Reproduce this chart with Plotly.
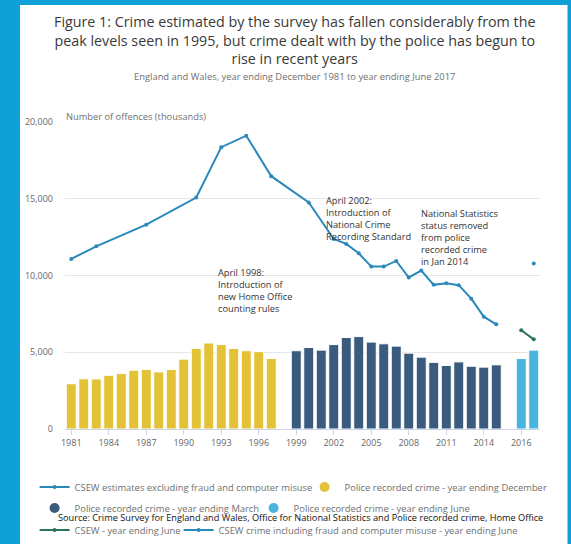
import plotly.graph_objects as go

# ---------------- data ----------------
categories = ["1981", "1982", "1983", "1984", "1985", "1986", "1987", "1988", "1989",
              "1990", "1991", "1992", "1993", "1994", "1995", "1996", "1997", "1998",
              "1999", "2000", "2001", "2002", "2003", "2004", "2005", "2006", "2007",
              "2008", "2009", "2010", "2011", "2012", "2013", "2014", "2015", "2015/16",
              "2016", "2017"]
tick_labels = ["1981", "1984", "1987", "1990", "1993", "1996", "1999", "2002", "2005",
               "2008", "2011", "2014", "2016"]

dec_years = ["1981", "1982", "1983", "1984", "1985", "1986", "1987", "1988", "1989",
             "1990", "1991", "1992", "1993", "1994", "1995", "1996", "1997"]
dec_values = [2950, 3270, 3260, 3500, 3610, 3830, 3880, 3720, 3880,
              4550, 5250, 5600, 5500, 5250, 5100, 5040, 4590]

mar_years = ["1999", "2000", "2001", "2002", "2003", "2004", "2005", "2006", "2007",
             "2008", "2009", "2010", "2011", "2012", "2013", "2014", "2015"]
mar_values = [5100, 5310, 5140, 5500, 5960, 6020, 5660, 5550, 5400,
              4940, 4680, 4340, 4140, 4370, 4090, 4030, 4180]

jun_years = ["2016", "2017"]
jun_values = [4590, 5140]

csew_years = ["1981", "1983", "1987", "1991", "1993", "1995", "1997", "2000", "2002",
              "2003", "2004", "2005", "2006", "2007", "2008", "2009", "2010", "2011",
              "2012", "2013", "2014", "2015"]
csew_values = [11080, 11900, 13310, 15080, 18360, 19110, 16470, 14760, 12380,
               12060, 11450, 10580, 10580, 10950, 9870, 10320, 9390, 9500,
               9370, 8490, 7320, 6820]

csew_june_years = ["2016", "2017"]
csew_june_values = [6430, 5840]

fraud_years = ["2017"]
fraud_values = [10780]

note_years = ["1998", "2002", "2014"]

# ---------------- styling ----------------
FRAME = "#0EA0D6"
YELLOW = "#E4C237"
DARKBLUE = "#3A5B7E"
LIGHTBLUE = "#4AB4DE"
LINEBLUE = "#2A89BA"
GREEN = "#2E7356"
FONT = "Open Sans"

W, H = 571, 544
L, R, T, B = 65, 31, 122, 115
PW = W - L - R
PH = H - T - B


def px_x(px):
    return (px - L) / PW


def px_y(py):
    return (H - B - py) / PH


fig = go.Figure()

fig.add_trace(go.Bar(x=dec_years, y=dec_values, marker=dict(color=YELLOW, line=dict(color="white", width=1)),
                     showlegend=False, name="Police recorded crime - year ending December"))
fig.add_trace(go.Bar(x=mar_years, y=mar_values, marker=dict(color=DARKBLUE, line=dict(color="white", width=1)),
                     showlegend=False, name="Police recorded crime - year ending March"))
fig.add_trace(go.Bar(x=jun_years, y=jun_values, marker=dict(color=LIGHTBLUE, line=dict(color="white", width=1)),
                     showlegend=False, name="Police recorded crime - year ending June"))

fig.add_trace(go.Scatter(x=csew_years, y=csew_values, mode="lines+markers",
                         line=dict(color=LINEBLUE, width=2), marker=dict(size=4, color=LINEBLUE),
                         name="CSEW estimates excluding fraud and computer misuse",
                         legend="legend", legendwidth=225))
fig.add_trace(go.Scatter(x=[None], y=[None], mode="markers", marker=dict(size=10, color=YELLOW),
                         name="Police recorded crime - year ending December", legend="legend"))
fig.add_trace(go.Scatter(x=[None], y=[None], mode="markers", marker=dict(size=10, color=DARKBLUE),
                         name="Police recorded crime - year ending March", legend="legend2",
                         legendwidth=174))
fig.add_trace(go.Scatter(x=[None], y=[None], mode="markers", marker=dict(size=10, color=LIGHTBLUE),
                         name="Police recorded crime - year ending June", legend="legend2"))
fig.add_trace(go.Scatter(x=csew_june_years, y=csew_june_values, mode="lines+markers",
                         line=dict(color=GREEN, width=2), marker=dict(size=4, color=GREEN),
                         name="CSEW - year ending June", legend="legend3", legendwidth=99))
fig.add_trace(go.Scatter(x=fraud_years, y=fraud_values, mode="lines+markers",
                         line=dict(color=LINEBLUE, width=2), marker=dict(size=4, color=LINEBLUE),
                         name="CSEW crime including fraud and computer misuse - year ending June",
                         legend="legend3"))

shapes = [dict(type="rect", xref="paper", yref="paper", x0=px_x(20), x1=px_x(567.5),
               y0=px_y(550), y1=px_y(5), fillcolor="white", line=dict(width=0), layer="below")]
for yr in note_years:
    shapes.append(dict(type="line", xref="x", yref="paper", x0=yr, x1=yr, y0=0, y1=1,
                       line=dict(color="#E3E3E3", width=1.5), layer="below"))

legend_common = dict(orientation="h", xref="paper", yref="paper", xanchor="left", yanchor="middle",
                     font=dict(family=FONT, size=9.4, color="#707070"), bgcolor="rgba(0,0,0,0)",
                     borderwidth=0, itemwidth=30)

NOTE_FONT = dict(family=FONT, size=9.25, color="#333333")

annotations = [
    dict(text="Figure 1: Crime estimated by the survey has fallen considerably from the<br>"
              "peak levels seen in 1995, but crime dealt with by the police has begun to<br>"
              "rise in recent years",
         x=px_x(294), y=px_y(10), xref="paper", yref="paper", xanchor="center", yanchor="top",
         align="center", showarrow=False, font=dict(family=FONT, size=14.3, color="#3A3A3A")),
    dict(text="England and Wales, year ending December 1981 to year ending June 2017",
         x=px_x(294), y=px_y(77), xref="paper", yref="paper", xanchor="center", yanchor="middle",
         showarrow=False, font=dict(family=FONT, size=9.4, color="#707070")),
    dict(text="Number of offences (thousands)", x=px_x(64), y=px_y(116), xref="paper", yref="paper",
         xanchor="left", yanchor="middle", showarrow=False,
         font=dict(family=FONT, size=9.3, color="#707070")),
    dict(text="Source: Crime Survey for England and Wales, Office for National Statistics and Police recorded crime, Home Office",
         x=px_x(56), y=px_y(517.5), xref="paper", yref="paper", xanchor="left", yanchor="middle",
         showarrow=False, font=dict(family=FONT, size=9.2, color="#111111")),
    dict(text="April 1998:<br>Introduction of<br>new Home Office<br>counting rules",
         x=px_x(216), y=px_y(263.5), xref="paper", yref="paper", xanchor="left", yanchor="top",
         align="left", showarrow=False, font=NOTE_FONT),
    dict(text="April 2002:<br>Introduction of<br>National Crime<br>Recording Standard",
         x=px_x(324), y=px_y(191.5), xref="paper", yref="paper", xanchor="left", yanchor="top",
         align="left", showarrow=False, font=NOTE_FONT),
    dict(text="National Statistics<br>status removed<br>from police<br>recorded crime<br>in Jan 2014",
         x=px_x(419), y=px_y(204.5), xref="paper", yref="paper", xanchor="left", yanchor="top",
         align="left", showarrow=False, font=NOTE_FONT),
]

fig.update_layout(
    width=W, height=H,
    margin=dict(l=L, r=R, t=T, b=B, pad=0, autoexpand=False),
    paper_bgcolor=FRAME, plot_bgcolor="rgba(0,0,0,0)",
    barmode="overlay", bargap=0.2,
    font=dict(family=FONT, color="#666666"),
    xaxis=dict(type="category", categoryorder="array", categoryarray=categories,
               range=[-0.5, len(categories) - 0.5], tickmode="array", tickvals=tick_labels,
               ticktext=tick_labels, showgrid=False, showline=True, linecolor="#CCD6EB",
               linewidth=1, ticks="outside", ticklen=5, tickcolor="#CCD6EB",
               tickfont=dict(family=FONT, size=9, color="#666666"), zeroline=False, fixedrange=True),
    yaxis=dict(range=[0, 20000], tickvals=[0, 5000, 10000, 15000, 20000], tickformat=",d",
               showgrid=True, gridcolor="#E6E6E6", gridwidth=1, zeroline=False, showline=False,
               ticks="", ticklabelstandoff=11,
               tickfont=dict(family=FONT, size=9, color="#666666"), fixedrange=True),
    shapes=shapes,
    annotations=annotations,
    legend=dict(legend_common, x=px_x(34.6), y=px_y(487)),
    legend2=dict(legend_common, x=px_x(34.6), y=px_y(508)),
    legend3=dict(legend_common, x=px_x(34.6), y=px_y(530)),
)

fig.write_html("out.html", post_script="document.body.style.margin='0';",
               config={"displayModeBar": False})
